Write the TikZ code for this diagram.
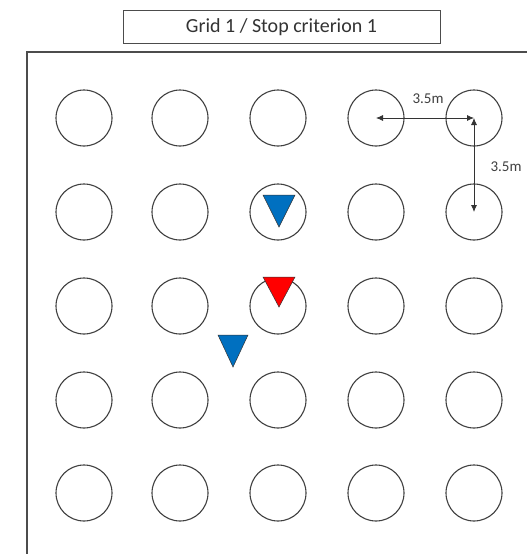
\documentclass[tikz,border=0pt]{standalone}
\usepackage{fontspec}
\setmainfont{Carlito}
\usetikzlibrary{arrows.meta}
\begin{document}
\begin{tikzpicture}[x=1pt,y=-1pt,
  spot/.style={circle,draw=black!75,line width=1.1pt,minimum size=56pt,inner sep=0pt},
  frame/.style={draw=black!70,line width=1.2pt},
  dim/.style={draw=black!80,line width=0.8pt,{Latex[length=7pt,width=6pt]}-{Latex[length=7pt,width=6pt]}},
  dimlabel/.style={font=\fontsize{15}{16}\selectfont,text=black!75,inner sep=1pt},
  tri/.style={draw=black!80,line width=0.5pt}]
\useasboundingbox (0,0) rectangle (527,554);
\fill[white] (0,0) rectangle (527,554);
% title
\node[draw=black!70,line width=1pt,minimum width=317pt,minimum height=33pt,inner sep=0pt,
  font=\fontsize{20}{22}\selectfont,text=black!80] (title) at (281.5,27) {Grid 1 / Stop criterion 1};
% frame
\draw[frame] (527,52) -- (27,52) -- (27,554);
% circles
\foreach \r/\y in {1/118,2/212,3/306,4/400,5/493}{
  \foreach \c/\x in {1/84,2/180,3/278,4/376,5/474}{
    \node[spot] (c\r\c) at (\x,\y) {};
  }
}
% dimension arrows
\draw[dim] (c14.center) -- (c15.center);
\draw[dim] (c15.center) -- (c25.center);
\node[dimlabel] (l1) at (428,99) {3.5m};
\node[dimlabel] (l2) at (506,167) {3.5m};
% triangles
\fill[tri,fill={rgb,255:red,0;green,112;blue,192}] (263,195) -- (295,195) -- (279,227) -- cycle;
\fill[tri,fill=red] (263,277) -- (295,277) -- (279,307) -- cycle;
\fill[tri,fill={rgb,255:red,0;green,112;blue,192}] (218,335) -- (248,335) -- (233,367) -- cycle;
\end{tikzpicture}
\end{document}
